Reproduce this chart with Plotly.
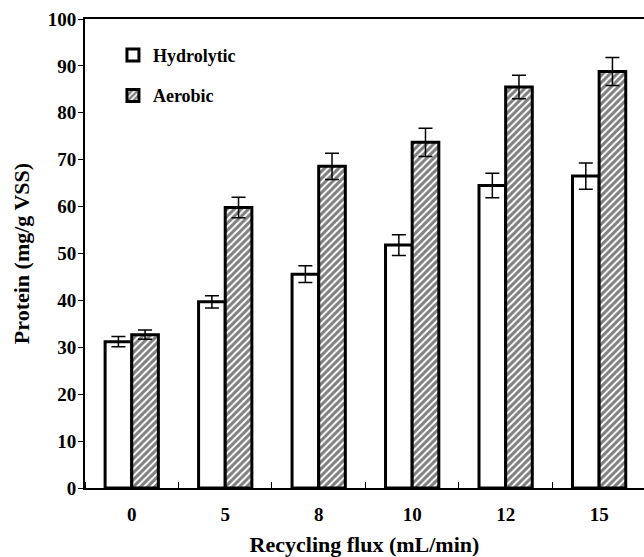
import plotly.graph_objects as go

categories = ["0", "5", "8", "10", "12", "15"]
hydrolytic = [31.2, 39.7, 45.6, 51.8, 64.5, 66.5]
hydrolytic_err = [1.1, 1.3, 1.8, 2.2, 2.6, 2.8]
aerobic = [32.7, 59.8, 68.6, 73.7, 85.5, 88.8]
aerobic_err = [1.0, 2.2, 2.8, 3.0, 2.5, 3.0]

font_family = "Liberation Serif, Times New Roman, serif"
positions = list(range(len(categories)))

fig = go.Figure()
fig.add_trace(go.Bar(
    x=positions, y=hydrolytic, name="<b>Hydrolytic</b>",
    legendgroup="h",
    marker=dict(color="white", line=dict(color="black", width=3)),
    error_y=dict(type="data", array=hydrolytic_err, color="black", thickness=1.5, width=7),
))
fig.add_trace(go.Bar(
    x=positions, y=aerobic, name="<b>Aerobic</b>",
    legendgroup="a",
    marker=dict(color="white", line=dict(color="black", width=3),
                pattern=dict(shape="/", fgcolor="black", bgcolor="white", size=5, solidity=0.6)),
    error_y=dict(type="data", array=aerobic_err, color="black", thickness=1.5, width=7),
))

fig.update_layout(
    width=644, height=557,
    margin=dict(l=85, r=0, t=19, b=69),
    plot_bgcolor="white", paper_bgcolor="white",
    barmode="group", bargap=0.43, bargroupgap=0,
    font=dict(family=font_family, size=18, color="black"),
    showlegend=True,
    legend=dict(x=0.05, y=0.962, xanchor="left", yanchor="top",
                bgcolor="rgba(0,0,0,0)", font=dict(size=18, family=font_family),
                tracegroupgap=14, traceorder="grouped"),
    xaxis=dict(
        range=[-0.5, 5.48], automargin=False,
        tickmode="array", tickvals=positions, ticktext=["<b>%s</b>" % c for c in categories],
        showline=True, linecolor="black", linewidth=2, mirror=True,
        ticks="", ticklabelstandoff=8,
        minor=dict(tick0=0.5, dtick=1, ticks="inside", ticklen=6, tickwidth=1, tickcolor="black", showgrid=False),
        tickfont=dict(size=19, family=font_family),
        title=dict(text="<b>Recycling flux (mL/min)</b>", font=dict(size=22, family=font_family), standoff=20),
        showgrid=False, zeroline=False,
    ),
    yaxis=dict(
        range=[0, 100], dtick=10, automargin=False, mirror=False,
        showline=True, linecolor="black", linewidth=2,
        ticks="outside", ticklen=5, tickwidth=1, tickcolor="black", ticklabelstandoff=-2,
        tickfont=dict(size=19, family=font_family),
        tickprefix="<b>", ticksuffix="</b>",
        title=dict(text="<b>Protein (mg/g VSS)</b>", font=dict(size=22, family=font_family), standoff=12),
        showgrid=False, zeroline=False,
    ),
    shapes=[dict(type="rect", xref="paper", yref="paper",
                 x0=(627.8 - 85) / 559, x1=(638 - 85) / 559, y0=0.006, y1=0.994,
                 fillcolor="white", line=dict(width=0), layer="above")],
)

fig.write_html("out.html", config={"displayModeBar": False})
